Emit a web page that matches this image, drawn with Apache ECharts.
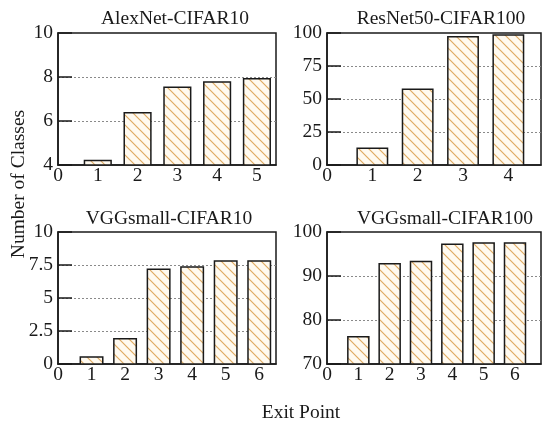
<!DOCTYPE html>
<html>
<head>
<meta charset="utf-8">
<script src="https://cdn.jsdelivr.net/npm/echarts@6/dist/echarts.min.js"></script>
<style>
  html, body { margin: 0; padding: 0; background: #fff; }
  #chart { width: 544px; height: 425px; }
</style>
</head>
<body>
<div id="chart"></div>
<script>
// Exit points and number of classes per exit, one array per network/dataset
const alexExits = [1, 2, 3, 4, 5];
const alexClasses = [4.2, 6.38, 7.53, 7.77, 7.92];

const resnetExits = [1, 2, 3, 4];
const resnetClasses = [12.6, 57.3, 97.2, 98.5];

const vgg10Exits = [1, 2, 3, 4, 5, 6];
const vgg10Classes = [0.53, 1.92, 7.17, 7.35, 7.8, 7.8];

const vgg100Exits = [1, 2, 3, 4, 5, 6];
const vgg100Classes = [76.2, 92.8, 93.3, 97.2, 97.5, 97.5];

const panelTitles = ['AlexNet-CIFAR10', 'ResNet50-CIFAR100', 'VGGsmall-CIFAR10', 'VGGsmall-CIFAR100'];

const FONT = 'Liberation Serif';
const FS = 19.5;
const INK = '#1a1a1a';

// Diagonal hatch tile used as the bar fill
function hatchPattern() {
  const s = 10;
  const c = document.createElement('canvas');
  c.width = s; c.height = s;
  const g = c.getContext('2d');
  g.fillStyle = '#fffaf0';
  g.fillRect(0, 0, s, s);
  g.strokeStyle = '#dfab62';
  g.lineWidth = 1.2;
  g.beginPath();
  g.moveTo(-2, -2); g.lineTo(s + 2, s + 2);
  g.moveTo(-2, s - 2); g.lineTo(2, s + 2);
  g.moveTo(s - 2, -2); g.lineTo(s + 2, 2);
  g.stroke();
  return { image: c, repeat: 'repeat' };
}
const hatch = hatchPattern();
const HALF_W = 0.335;

const panels = [
  { grid: { left: 58, top: 33, width: 218, height: 132 }, xMax: 5.48, yMin: 4, yMax: 10, yInt: 2, exits: alexExits, vals: alexClasses, tx: 170, ty: 4 },
  { grid: { left: 327, top: 33, width: 230, height: 132 }, xMax: 4.72, yMin: 0, yMax: 100, yInt: 25, exits: resnetExits, vals: resnetClasses, tx: 436, ty: 4 },
  { grid: { left: 58, top: 232, width: 218, height: 132 }, xMax: 6.5, yMin: 0, yMax: 10, yInt: 2.5, exits: vgg10Exits, vals: vgg10Classes, tx: 164, ty: 204 },
  { grid: { left: 327, top: 232, width: 230, height: 132 }, xMax: 6.83, yMin: 70, yMax: 100, yInt: 10, exits: vgg100Exits, vals: vgg100Classes, tx: 440, ty: 204 }
];

const grids = [], xAxes = [], yAxes = [], series = [], titles = [];

panels.forEach((p, i) => {
  grids.push(Object.assign({ show: true, borderColor: INK, borderWidth: 1.5, backgroundColor: 'transparent' }, p.grid));
  xAxes.push({
    type: 'value', gridIndex: i, min: 0, max: p.xMax, interval: 1,
    axisLine: { show: true, onZero: false, lineStyle: { color: INK, width: 1.5 } },
    axisTick: { show: false },
    splitLine: { show: false },
    axisLabel: {
      margin: 1, fontFamily: FONT, fontSize: FS, color: INK,
      formatter: v => (Number.isInteger(v) ? String(v) : '')
    }
  });
  yAxes.push({
    type: 'value', gridIndex: i, min: p.yMin, max: p.yMax, interval: p.yInt,
    axisLine: { show: true, onZero: false, lineStyle: { color: INK, width: 1.5 } },
    axisTick: { show: true, inside: true, length: 14, lineStyle: { color: INK, width: 1.5 } },
    splitLine: { show: true, showMinLine: false, showMaxLine: false, lineStyle: { color: '#8a8a8a', width: 1, type: [2, 2] } },
    axisLabel: { margin: 5, fontFamily: FONT, fontSize: FS, color: INK }
  });
  series.push({
    type: 'custom', xAxisIndex: i, yAxisIndex: i, clip: true,
    data: p.exits.map((x, k) => [x, p.vals[k]]),
    renderItem: (params, api) => {
      const x = api.value(0), v = api.value(1);
      const a = api.coord([x - HALF_W, v]);
      const b = api.coord([x + HALF_W, p.yMin]);
      return {
        type: 'rect',
        shape: { x: a[0], y: a[1], width: b[0] - a[0], height: b[1] - a[1] },
        style: { fill: hatch, stroke: INK, lineWidth: 1.5 }
      };
    }
  });
  titles.push({
    text: panelTitles[i], left: p.tx, top: p.ty, textAlign: 'center',
    textStyle: { fontFamily: FONT, fontSize: FS, fontWeight: 'normal', color: INK }
  });
});

const chart = echarts.init(document.getElementById('chart'), null, { renderer: 'canvas' });
chart.setOption({
  animation: false,
  backgroundColor: '#fff',
  title: titles,
  grid: grids,
  xAxis: xAxes,
  yAxis: yAxes,
  series: series,
  graphic: [
    {
      type: 'text', x: 19, y: 184, rotation: Math.PI / 2,
      style: { text: 'Number of Classes', font: FS + 'px "Liberation Serif"', fill: INK, align: 'center', verticalAlign: 'middle' }
    },
    {
      type: 'text', x: 301, y: 413,
      style: { text: 'Exit Point', font: FS + 'px "Liberation Serif"', fill: INK, align: 'center', verticalAlign: 'middle' }
    }
  ]
});
</script>
</body>
</html>
